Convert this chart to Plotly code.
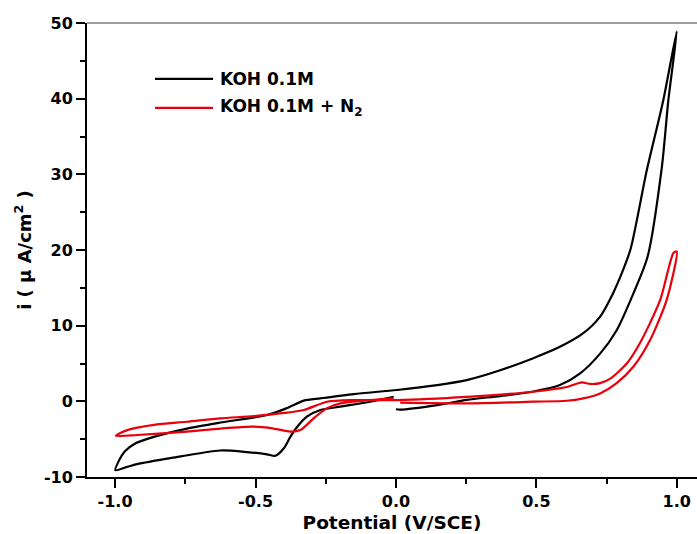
import plotly.graph_objects as go

# Cyclic voltammograms, potential in V vs SCE, current density in µA/cm²
koh_potential = [0.000, 0.015, 0.147, 0.252, 0.371, 0.489, 0.584, 0.656, 0.727, 0.786, 0.846, 0.896,
                 0.947, 0.970, 1.000,
                 0.952, 0.893, 0.836, 0.805, 0.772, 0.727, 0.667, 0.584, 0.489, 0.371, 0.252, 0.147,
                 0.004, -0.150, -0.269, -0.328, -0.388, -0.459, -0.625, -0.744, -0.862, -0.930,
                 -0.965, -0.987, -0.999,
                 -0.960, -0.922, -0.803, -0.625, -0.530, -0.459, -0.429, -0.399, -0.376, -0.352, -0.316,
                 -0.269, -0.198, -0.091, -0.008]
koh_current = [-1.05, -1.1, -0.5, 0.2, 0.7, 1.3, 2.15, 3.7, 6.3, 9.4, 14.3, 19.1,
               31.0, 39.8, 48.9,
               39.8, 30.5, 20.2, 17.0, 14.2, 11.2, 9.0, 7.2, 5.7, 4.1, 2.8, 2.15,
               1.5, 0.96, 0.4, 0.1, -0.9, -1.8, -2.8, -3.6, -4.7, -5.6,
               -6.6, -7.9, -9.1,
               -8.7, -8.3, -7.5, -6.5, -6.7, -7.0, -7.2, -6.2, -4.7, -3.4, -2.0,
               -1.15, -0.7, -0.05, 0.6]

n2_potential = [0.015, 0.252, 0.489, 0.608, 0.667, 0.727, 0.786, 0.846, 0.905, 0.964, 1.000,
                0.988, 0.941, 0.869, 0.822, 0.763, 0.727, 0.691, 0.662, 0.608, 0.489, 0.252,
                0.004, -0.150, -0.245, -0.328, -0.388, -0.506, -0.625, -0.744, -0.862, -0.957,
                -0.997,
                -0.922, -0.744, -0.625, -0.506, -0.435, -0.376, -0.340, -0.293, -0.245, -0.198,
                -0.091, -0.008]
n2_current = [-0.18, -0.27, -0.05, 0.08, 0.4, 1.05, 2.4, 4.6, 8.1, 13.4, 19.8,
              19.6, 13.4, 7.7, 5.0, 3.0, 2.4, 2.3, 2.5, 1.9, 1.27, 0.6,
              0.17, 0.17, -0.05, -1.15, -1.5, -1.95, -2.25, -2.7, -3.1, -3.8,
              -4.55,
              -4.45, -4.0, -3.6, -3.35, -3.6, -4.0, -3.8, -2.25, -0.9, -0.27,
              0.17, 0.4]

series_names = ["KOH 0.1M", "KOH 0.1M + N<sub>2</sub>"]
series_colors = ["#000000", "#e8000b"]

x_tickvals = [-1.0, -0.5, 0.0, 0.5, 1.0]
x_ticktext = ["-1.0", "-0.5", "0.0", "0.5", "1.0"]
y_tickvals = [-10, 0, 10, 20, 30, 40, 50]
y_ticktext = ["-10", "0", "10", "20", "30", "40", "50"]

FONT = "DejaVu Sans"

fig = go.Figure()
for xs, ys, name, color in [(koh_potential, koh_current, series_names[0], series_colors[0]),
                            (n2_potential, n2_current, series_names[1], series_colors[1])]:
    fig.add_trace(go.Scatter(x=xs, y=ys, mode="lines", name=name, showlegend=False,
                             line=dict(color=color, width=2.2, shape="spline", smoothing=0.7)))

# Legend drawn as sample strokes plus labels
legend_rows = [0.877, 0.813]
for row_y, name, color in zip(legend_rows, series_names, series_colors):
    fig.add_shape(type="line", xref="paper", yref="paper", x0=0.1115, x1=0.2066,
                  y0=row_y, y1=row_y, line=dict(color=color, width=2.2))
    fig.add_annotation(xref="paper", yref="paper", x=0.2148, y=row_y, text=name,
                       showarrow=False, xanchor="left", yanchor="middle",
                       font=dict(family=FONT, size=17, color="#000", weight="bold"))

# Thin frame line along the top edge
fig.add_shape(type="line", xref="paper", yref="paper", x0=0, x1=1, y0=1, y1=1,
              line=dict(color="#808080", width=1.5))

axis_common = dict(showline=True, linecolor="#000", linewidth=2, showgrid=False, zeroline=False,
                   ticks="outside", ticklen=9, tickwidth=2, tickcolor="#000",
                   tickfont=dict(family=FONT, size=16, color="#000", weight="bold"))

fig.update_xaxes(range=[-1.1, 1.072], tickvals=x_tickvals, ticktext=x_ticktext,
                 minor=dict(ticks="outside", ticklen=5, tickwidth=1.5, tickcolor="#000", dtick=0.25, tick0=0),
                 title=dict(text="Potential (V/SCE)", standoff=6,
                            font=dict(family=FONT, size=18.5, color="#000", weight="bold")),
                 **axis_common)
fig.update_yaxes(range=[-10, 50], tickvals=y_tickvals, ticktext=y_ticktext,
                 minor=dict(ticks="outside", ticklen=5, tickwidth=1.5, tickcolor="#000", dtick=5, tick0=0),
                 title=dict(text="i ( µ A/cm<sup>2</sup> )", standoff=8,
                            font=dict(family=FONT, size=18, color="#000", weight="bold")),
                 **axis_common)

fig.update_layout(width=697, height=534, margin=dict(l=87, r=0, t=23, b=57),
                  paper_bgcolor="white", plot_bgcolor="white")

fig.write_html("out.html")
